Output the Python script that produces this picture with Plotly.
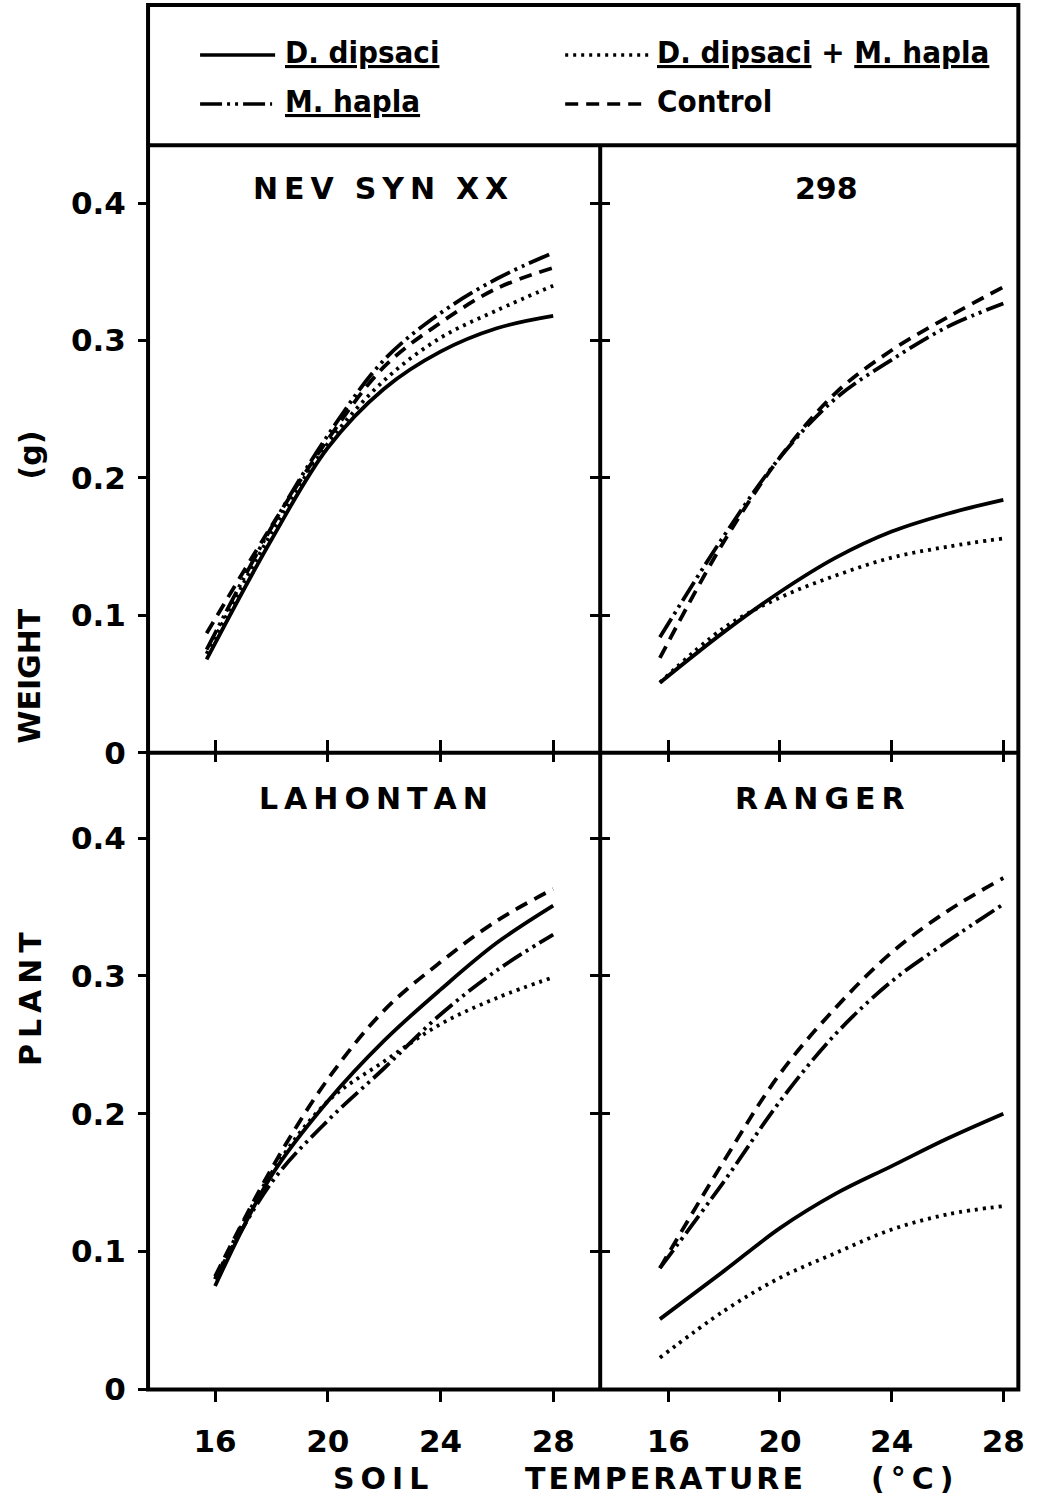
import plotly.graph_objects as go

# ---------------- data ----------------
panels = ["NEV SYN XX", "298", "LAHONTAN", "RANGER"]
series_names = ["D. dipsaci", "M. hapla", "D. dipsaci + M. hapla", "Control"]

temp_nev = [15.7, 18, 20, 22, 24, 26, 28]
temp_298 = [15.7, 18, 20, 22, 24, 26, 28]
temp_lah = [16.0, 18, 20, 22, 24, 26, 28]
temp_ran = [15.7, 18, 20, 22, 24, 26, 28]

nev_dd = [0.068, 0.155, 0.222, 0.265, 0.292, 0.309, 0.318]
nev_mh = [0.075, 0.164, 0.231, 0.286, 0.320, 0.345, 0.364]
nev_ddmh = [0.072, 0.160, 0.225, 0.271, 0.302, 0.322, 0.340]
nev_ctrl = [0.087, 0.165, 0.228, 0.281, 0.313, 0.338, 0.353]

b298_dd = [0.051, 0.088, 0.117, 0.142, 0.161, 0.174, 0.184]
b298_mh = [0.084, 0.158, 0.215, 0.258, 0.286, 0.310, 0.327]
b298_ddmh = [0.051, 0.091, 0.113, 0.129, 0.142, 0.150, 0.156]
b298_ctrl = [0.069, 0.154, 0.215, 0.262, 0.293, 0.317, 0.339]

lah_dd = [0.075, 0.155, 0.209, 0.253, 0.290, 0.324, 0.351]
lah_mh = [0.080, 0.150, 0.195, 0.233, 0.272, 0.304, 0.330]
lah_ddmh = [0.080, 0.157, 0.209, 0.238, 0.265, 0.284, 0.299]
lah_ctrl = [0.082, 0.160, 0.225, 0.275, 0.310, 0.340, 0.363]

ran_dd = [0.051, 0.086, 0.117, 0.142, 0.162, 0.182, 0.200]
ran_mh = [0.088, 0.151, 0.209, 0.258, 0.296, 0.325, 0.352]
ran_ddmh = [0.023, 0.057, 0.081, 0.099, 0.116, 0.127, 0.133]
ran_ctrl = [0.088, 0.166, 0.229, 0.277, 0.317, 0.347, 0.371]

x_ticks = [16, 20, 24, 28]
x_ticklabels = ["16", "20", "24", "28"]
y_ticks = [0, 0.1, 0.2, 0.3, 0.4]
y_ticklabels = ["0", "0.1", "0.2", "0.3", "0.4"]

# ---------------- styles ----------------
W, H = 1059, 1501
SX, SY = 1 / 0.994, 1 / 0.987   # layout stretch so the photographed frame lands on the reference's
FONT = "DejaVu Sans"
LW = 3.8
dash_styles = {
    "D. dipsaci": "solid",
    "M. hapla": "22px,5px,3px,5px,3px,5px",
    "D. dipsaci + M. hapla": "3px,5px",
    "Control": "13px,8px",
}

THIN = "\u2009"
HAIR = "\u200a"


def spaced(text, sp):
    return "  ".join(sp.join(list(w)) for w in text.split(" "))


def fx(p):
    return p * SX / W


def fy(p):
    return 1 - p * SY / H


# pixel geometry (reference picture)
L, M, R = 148, 600, 1018
TOP, LEG_B, MID, BOT = 5, 145, 752, 1388

fig = go.Figure()

panel_data = [
    (temp_nev, [nev_dd, nev_mh, nev_ddmh, nev_ctrl], "x", "y"),
    (temp_298, [b298_dd, b298_mh, b298_ddmh, b298_ctrl], "x2", "y2"),
    (temp_lah, [lah_dd, lah_mh, lah_ddmh, lah_ctrl], "x3", "y3"),
    (temp_ran, [ran_dd, ran_mh, ran_ddmh, ran_ctrl], "x4", "y4"),
]
for temps, vals, xa, ya in panel_data:
    for name, v in zip(series_names, vals):
        fig.add_trace(go.Scatter(
            x=temps, y=v, mode="lines", name=name, showlegend=False,
            line=dict(color="black", width=LW, dash=dash_styles[name],
                      shape="spline", smoothing=1.0),
            xaxis=xa, yaxis=ya, hoverinfo="skip"))

xl_range = [16 - (215 - L) / 28.17, 28 + (M - 553) / 28.17]
xr_range = [16 - (668 - M) / 27.9, 28 + (R - 1003) / 27.9]
yt_range = [0, (MID - LEG_B) / 1372.5]
yb_range = [0, (BOT - MID) / 1377.0]

dom_xl = [fx(L), fx(M)]
dom_xr = [fx(M), fx(R)]
dom_yt = [fy(MID), fy(LEG_B)]
dom_yb = [fy(BOT), fy(MID)]

tickfont = dict(family=FONT, size=31, color="black", weight="bold")
common = dict(showgrid=False, zeroline=False, showline=False,
              tickcolor="black", tickwidth=3, fixedrange=True)

fig.update_layout(
    width=W, height=H,
    margin=dict(l=0, r=0, t=0, b=0),
    paper_bgcolor="white", plot_bgcolor="white",
    showlegend=False,
    # top-left
    xaxis=dict(domain=dom_xl, range=xl_range, anchor="y", tickvals=x_ticks,
               ticks="outside", ticklen=8, showticklabels=False, **common),
    yaxis=dict(domain=dom_yt, range=yt_range, anchor="x", tickvals=y_ticks,
               ticktext=y_ticklabels, ticks="outside", ticklen=9, mirror="ticks",
               tickfont=tickfont, ticklabelstandoff=6, **common),
    # top-right
    xaxis2=dict(domain=dom_xr, range=xr_range, anchor="y2", tickvals=x_ticks,
                ticks="outside", ticklen=8, showticklabels=False, **common),
    yaxis2=dict(domain=dom_yt, range=yt_range, anchor="x2", tickvals=y_ticks[1:],
                ticks="outside", ticklen=9, showticklabels=False, **common),
    # bottom-left
    xaxis3=dict(domain=dom_xl, range=xl_range, anchor="y3", tickvals=x_ticks,
                ticktext=x_ticklabels, ticks="outside", ticklen=12, mirror="ticks",
                tickfont=tickfont, ticklabelstandoff=12, **common),
    yaxis3=dict(domain=dom_yb, range=yb_range, anchor="x3", tickvals=y_ticks,
                ticktext=y_ticklabels, ticks="outside", ticklen=9, mirror="ticks",
                tickfont=tickfont, ticklabelstandoff=6, **common),
    # bottom-right
    xaxis4=dict(domain=dom_xr, range=xr_range, anchor="y4", tickvals=x_ticks,
                ticktext=x_ticklabels, ticks="outside", ticklen=12, mirror="ticks",
                tickfont=tickfont, ticklabelstandoff=12, **common),
    yaxis4=dict(domain=dom_yb, range=yb_range, anchor="x4", tickvals=y_ticks[1:],
                ticks="outside", ticklen=9, showticklabels=False, **common),
)

# frame lines
frame = dict(color="black", width=4)
shapes = [
    dict(type="rect", xref="paper", yref="paper", x0=fx(L), x1=fx(R), y0=fy(BOT), y1=fy(TOP), line=frame),
    dict(type="line", xref="paper", yref="paper", x0=fx(L), x1=fx(R), y0=fy(LEG_B), y1=fy(LEG_B), line=frame),
    dict(type="line", xref="paper", yref="paper", x0=fx(L), x1=fx(R), y0=fy(MID), y1=fy(MID), line=frame),
    dict(type="line", xref="paper", yref="paper", x0=fx(M), x1=fx(M), y0=fy(BOT), y1=fy(LEG_B), line=frame),
]

# legend (drawn manually in the header box)
legend_items = [
    ("D. dipsaci", 200, 275, 55, "<u>D. dipsaci</u>", 283),
    ("D. dipsaci + M. hapla", 565, 650, 55, "<u>D. dipsaci</u> + <u>M. hapla</u>", 655),
    ("M. hapla", 200, 272, 104, "<u>M. hapla</u>", 283),
    ("Control", 565, 648, 104, "Control", 655),
]
annotations = []
for name, x0, x1, yy, label, tx in legend_items:
    shapes.append(dict(type="line", xref="paper", yref="paper", x0=fx(x0), x1=fx(x1),
                       y0=fy(yy), y1=fy(yy),
                       line=dict(color="black", width=3.5, dash=dash_styles[name])))
    annotations.append(dict(xref="paper", yref="paper", x=fx(tx), y=fy(yy - 3),
                            text=label, showarrow=False, xanchor="left", yanchor="middle",
                            font=dict(family="DejaVu Sans Condensed, DejaVu Sans", size=31,
                                      color="black", weight="bold")))

# panel titles
title_font = dict(family=FONT, size=30, color="black", weight="bold")
for txt, cx, cy in [(spaced("NEV SYN XX", THIN), 380, 188), ("298", 826, 188),
                    (spaced("LAHONTAN", THIN), 373, 798), (spaced("RANGER", THIN), 820, 798)]:
    annotations.append(dict(xref="paper", yref="paper", x=fx(cx), y=fy(cy), text=txt,
                            showarrow=False, xanchor="center", yanchor="middle", font=title_font))

# x axis title words
for txt, cx in [(spaced("SOIL", THIN), 380), (spaced("TEMPERATURE", HAIR), 664), (spaced("(°C)", THIN), 912)]:
    annotations.append(dict(xref="paper", yref="paper", x=fx(cx), y=fy(1477), text=txt,
                            showarrow=False, xanchor="center", yanchor="middle", font=title_font))

# y axis title words
for txt, cy in [("(g)", 455), ("WEIGHT", 676), (spaced("PLANT", THIN), 998)]:
    annotations.append(dict(xref="paper", yref="paper", x=fx(30), y=fy(cy), text=txt,
                            showarrow=False, xanchor="center", yanchor="middle", textangle=-90,
                            font=title_font))

fig.update_layout(shapes=shapes, annotations=annotations)
fig.write_html(
    "out.html",
    config={"displayModeBar": False},
    post_script="document.body.style.margin='0';document.documentElement.style.overflow='hidden';document.body.style.overflow='hidden';",
)
